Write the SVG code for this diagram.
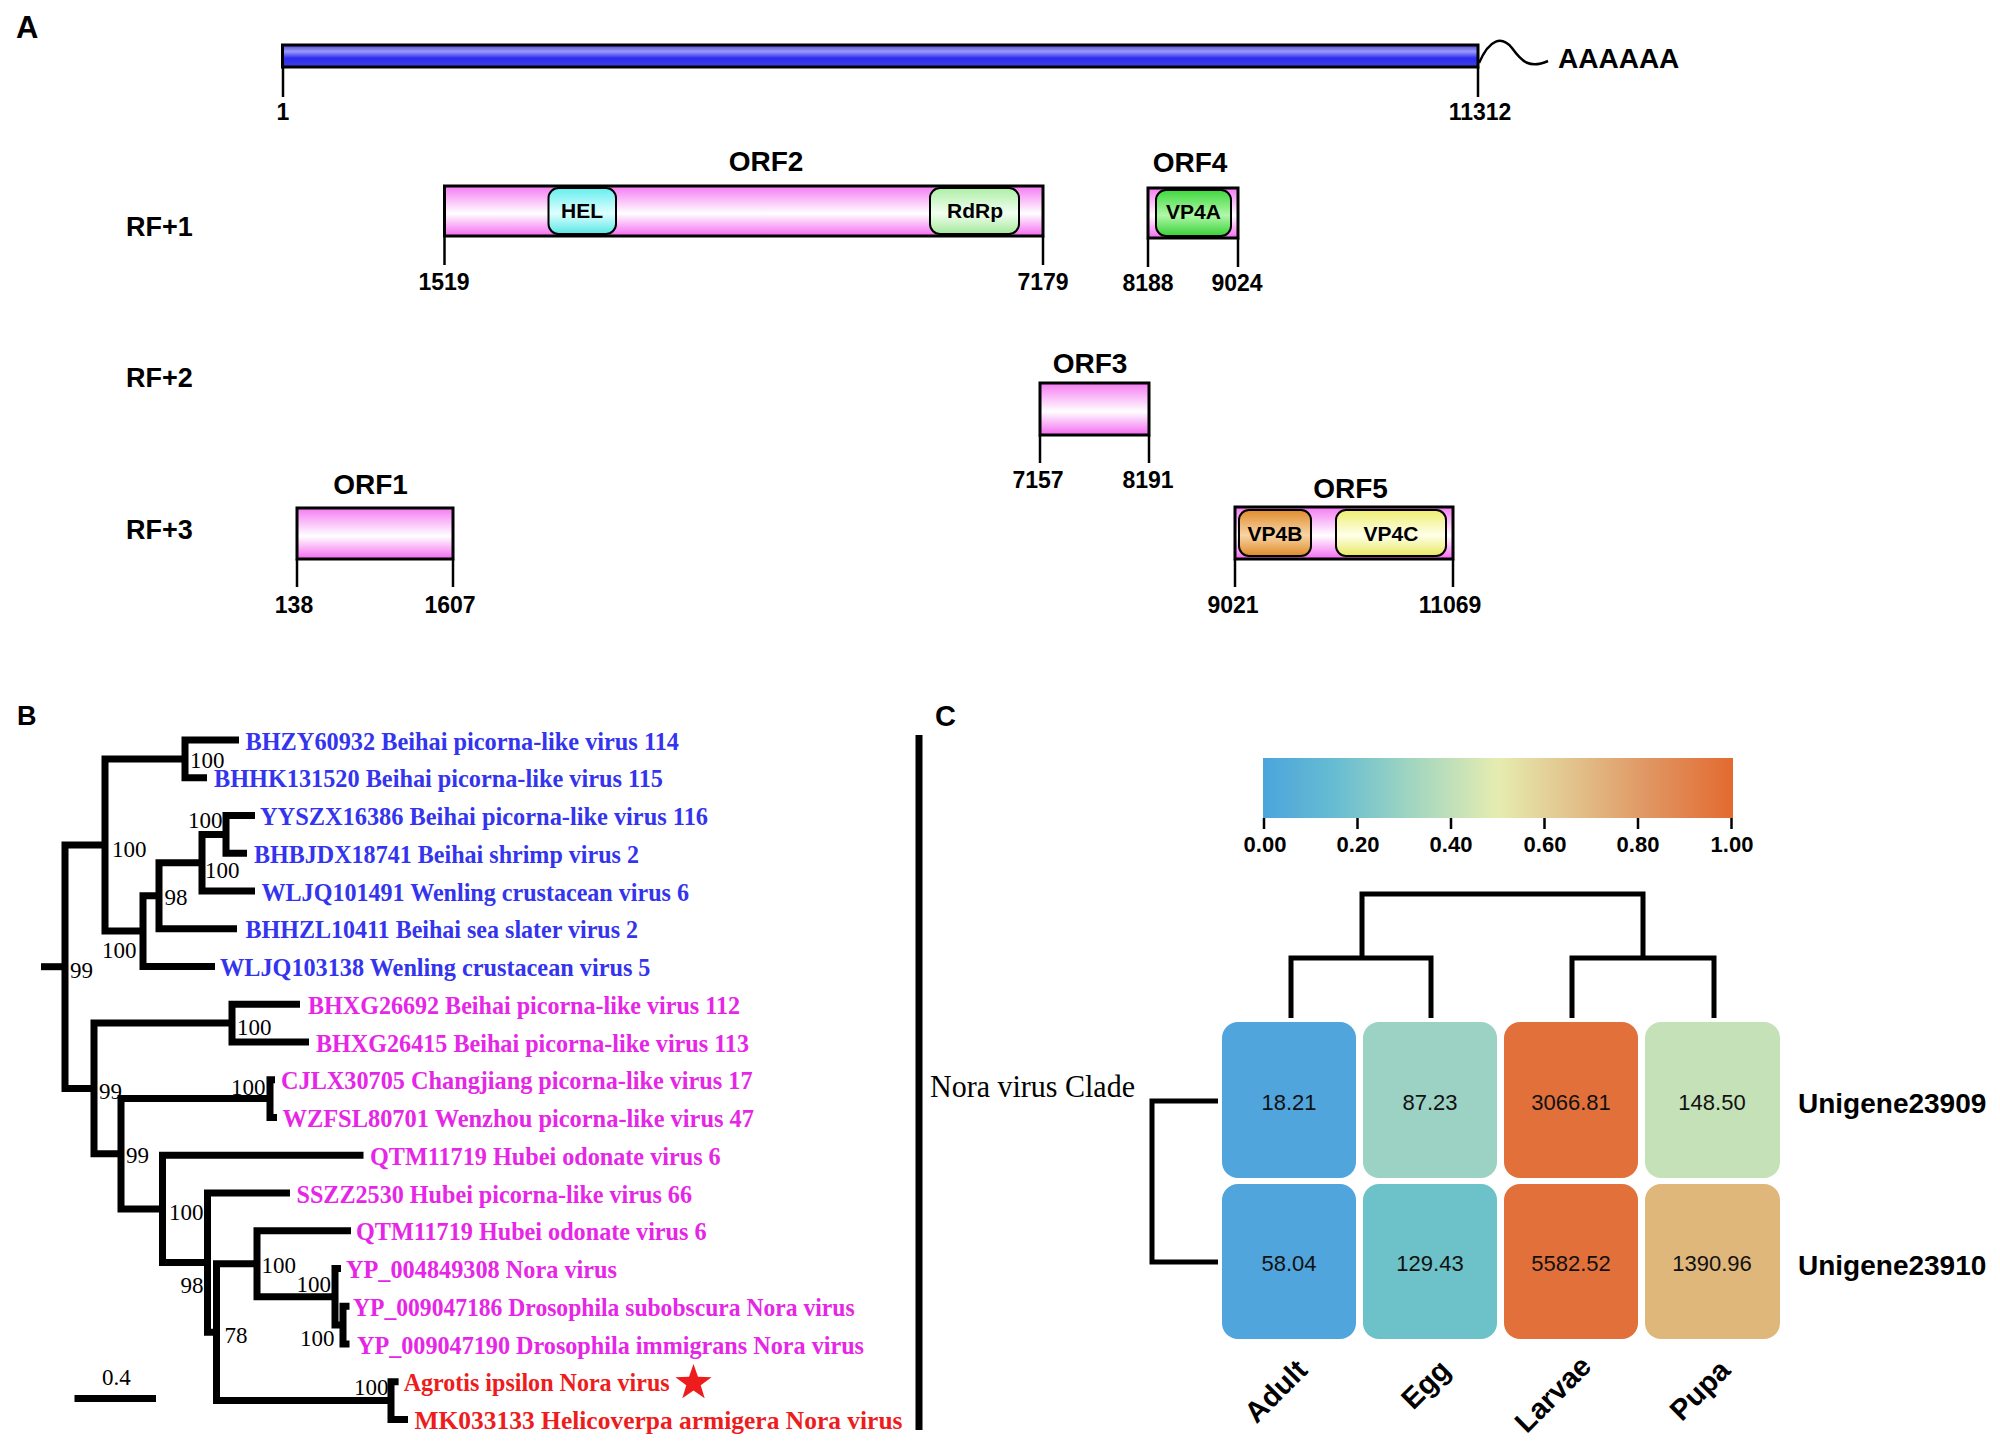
<svg xmlns="http://www.w3.org/2000/svg" width="2000" height="1442" viewBox="0 0 2000 1442">
<defs>
<linearGradient id="gBlue" x1="0" y1="0" x2="0" y2="1">
<stop offset="0" stop-color="#4a4ad8"/><stop offset="0.3" stop-color="#9a9af8"/><stop offset="0.6" stop-color="#2c2cf0"/><stop offset="1" stop-color="#4040e0"/>
</linearGradient>
<linearGradient id="gPink" x1="0" y1="0" x2="0" y2="1">
<stop offset="0" stop-color="#f47af2"/><stop offset="0.55" stop-color="#ffffff"/><stop offset="1" stop-color="#f46af0"/>
</linearGradient>
<linearGradient id="gCyan" x1="0" y1="0" x2="0" y2="1">
<stop offset="0" stop-color="#66eeee"/><stop offset="0.55" stop-color="#e0ffff"/><stop offset="1" stop-color="#58e6e6"/>
</linearGradient>
<linearGradient id="gLGreen" x1="0" y1="0" x2="0" y2="1">
<stop offset="0" stop-color="#aeeea6"/><stop offset="0.55" stop-color="#f2fff0"/><stop offset="1" stop-color="#a4e89c"/>
</linearGradient>
<linearGradient id="gGreen" x1="0" y1="0" x2="0" y2="1">
<stop offset="0" stop-color="#3ed83e"/><stop offset="0.55" stop-color="#b0f8a8"/><stop offset="1" stop-color="#38d038"/>
</linearGradient>
<linearGradient id="gOrange" x1="0" y1="0" x2="0" y2="1">
<stop offset="0" stop-color="#e08c2c"/><stop offset="0.55" stop-color="#f8d4a4"/><stop offset="1" stop-color="#de8a28"/>
</linearGradient>
<linearGradient id="gYellow" x1="0" y1="0" x2="0" y2="1">
<stop offset="0" stop-color="#eeee70"/><stop offset="0.55" stop-color="#ffffea"/><stop offset="1" stop-color="#e8e860"/>
</linearGradient>
<linearGradient id="gBar" x1="0" y1="0" x2="1" y2="0">
<stop offset="0" stop-color="#4ba5dc"/><stop offset="0.15" stop-color="#66bcd2"/><stop offset="0.32" stop-color="#a2d6c0"/><stop offset="0.5" stop-color="#e6ecb0"/><stop offset="0.66" stop-color="#e2c28c"/><stop offset="0.82" stop-color="#e09662"/><stop offset="1" stop-color="#e36a30"/>
</linearGradient>
</defs>
<style>
.pl{font-family:"Liberation Sans",Arial,sans-serif;font-weight:bold;fill:#000}
.rf{font-family:"Liberation Sans",Arial,sans-serif;font-weight:bold;font-size:27px}
.orf{font-family:"Liberation Sans",Arial,sans-serif;font-weight:bold;font-size:28px;text-anchor:middle}
.num{font-family:"Liberation Sans",Arial,sans-serif;font-weight:bold;font-size:23px;text-anchor:middle}
.dom{font-family:"Liberation Sans",Arial,sans-serif;font-weight:bold;font-size:21px;text-anchor:middle}
.box{stroke:#000;stroke-width:3;fill:url(#gPink)}
.dbox{stroke:#000;stroke-width:2}
.tick{stroke:#000;stroke-width:2.5;fill:none}
.br{stroke:#000;stroke-width:7;fill:none;stroke-linejoin:miter}
.lf{font-family:"Liberation Serif","Times New Roman",serif;font-weight:bold;font-size:25px}
.blue{fill:#3434ee}
.mag{fill:#e626e6}
.red{fill:#ee1c1c}
.bs{font-family:"Liberation Serif","Times New Roman",serif;font-size:23px;fill:#000}
.val{font-family:"Liberation Sans",Arial,sans-serif;font-size:22px;text-anchor:middle;fill:#111}
.cb{font-family:"Liberation Sans",Arial,sans-serif;font-weight:bold;font-size:22px;text-anchor:middle}
.dg{stroke:#000;stroke-width:5;fill:none}
.rowl{font-family:"Liberation Sans",Arial,sans-serif;font-weight:bold;font-size:28px}
.coll{font-family:"Liberation Sans",Arial,sans-serif;font-weight:bold;font-size:29px;text-anchor:end}
</style>
<rect width="2000" height="1442" fill="#fff"/>

<!-- Panel A -->
<text class="pl" x="16" y="38" font-size="31">A</text>
<g id="genome">
<rect x="282.5" y="45" width="1195.5" height="22" fill="url(#gBlue)" stroke="#000" stroke-width="3"/>
<line class="tick" x1="283" y1="67" x2="283" y2="97"/>
<line class="tick" x1="1478" y1="67" x2="1478" y2="97"/>
<path d="M1479,63 C1490,38 1502,36 1512,48 C1522,62 1530,69 1548,61" fill="none" stroke="#000" stroke-width="2.5"/>
<text class="num" x="283" y="120">1</text>
<text class="num" x="1480" y="120">11312</text>
<text class="pl" x="1558" y="68" font-size="28">AAAAAA</text>
</g>
<text class="rf" x="126" y="236">RF+1</text>
<text class="rf" x="126" y="387">RF+2</text>
<text class="rf" x="126" y="539">RF+3</text>

<g id="orf2">
<text class="orf" x="766" y="171">ORF2</text>
<rect class="box" x="444.5" y="186" width="598.5" height="50"/>
<rect class="dbox" x="548.5" y="188" width="67.5" height="46" rx="10" fill="url(#gCyan)"/>
<text class="dom" x="582" y="218">HEL</text>
<rect class="dbox" x="930" y="188" width="89" height="46" rx="10" fill="url(#gLGreen)"/>
<text class="dom" x="975" y="218">RdRp</text>
<line class="tick" x1="444.5" y1="236" x2="444.5" y2="265"/>
<line class="tick" x1="1043" y1="236" x2="1043" y2="265"/>
<text class="num" x="444" y="290">1519</text>
<text class="num" x="1043" y="290">7179</text>
</g>
<g id="orf4">
<text class="orf" x="1190" y="172">ORF4</text>
<rect class="box" x="1148" y="188" width="90" height="50"/>
<rect class="dbox" x="1156" y="190" width="75" height="46" rx="10" fill="url(#gGreen)"/>
<text class="dom" x="1193.5" y="219">VP4A</text>
<line class="tick" x1="1148" y1="238" x2="1148" y2="267"/>
<line class="tick" x1="1238" y1="238" x2="1238" y2="267"/>
<text class="num" x="1148" y="291">8188</text>
<text class="num" x="1237" y="291">9024</text>
</g>
<g id="orf3">
<text class="orf" x="1090" y="373">ORF3</text>
<rect class="box" x="1040" y="383" width="109" height="52"/>
<line class="tick" x1="1040" y1="435" x2="1040" y2="463"/>
<line class="tick" x1="1149" y1="435" x2="1149" y2="463"/>
<text class="num" x="1038" y="488">7157</text>
<text class="num" x="1148" y="488">8191</text>
</g>
<g id="orf1">
<text class="orf" x="370.5" y="494">ORF1</text>
<rect class="box" x="297" y="508" width="156" height="51"/>
<line class="tick" x1="297" y1="559" x2="297" y2="587"/>
<line class="tick" x1="453" y1="559" x2="453" y2="587"/>
<text class="num" x="294" y="613">138</text>
<text class="num" x="450" y="613">1607</text>
</g>
<g id="orf5">
<text class="orf" x="1350.5" y="498">ORF5</text>
<rect class="box" x="1235" y="507" width="218" height="52"/>
<rect class="dbox" x="1239" y="510" width="72" height="46" rx="10" fill="url(#gOrange)"/>
<text class="dom" x="1275" y="541">VP4B</text>
<rect class="dbox" x="1336" y="510" width="110" height="46" rx="10" fill="url(#gYellow)"/>
<text class="dom" x="1391" y="541">VP4C</text>
<line class="tick" x1="1235" y1="559" x2="1235" y2="587"/>
<line class="tick" x1="1453" y1="559" x2="1453" y2="587"/>
<text class="num" x="1233" y="613">9021</text>
<text class="num" x="1450" y="613">11069</text>
</g>

<!-- Panel B -->
<text class="pl" x="17" y="725" font-size="27">B</text>
<g id="connectors">
<path class="br" d="M239,740 H185 V777.75 H207"/>
<path class="br" d="M255,815.5 H226 V853.25 H247"/>
<path class="br" d="M226,834.4 H202 V891 H255"/>
<path class="br" d="M202,862.7 H159 V928.75 H237"/>
<path class="br" d="M159,895.7 H143 V966.5 H215"/>
<path class="br" d="M185,758.9 H105 V931.1 H143"/>
<path class="br" d="M105,845 H65 V1088.4 H94"/>
<path class="br" d="M41,966.7 H65"/>
<path class="br" d="M300,1004.25 H232 V1042 H309"/>
<path class="br" d="M232,1023.1 H94 V1153.8 H121"/>
<path class="br" d="M275,1079.75 H270 V1117.5 H277"/>
<path class="br" d="M270,1098.6 H121 V1208.9 H162.5"/>
<path class="br" d="M363.5,1155.25 H162.5 V1262.6 H207.5"/>
<path class="br" d="M290,1193 H207.5 V1332.2 H216.5"/>
<path class="br" d="M257,1263.8 H216.5 V1400.6 H391"/>
<path class="br" d="M351,1230.75 H257 V1296.8 H335"/>
<path class="br" d="M341,1268.5 H335 V1325.1 H343"/>
<path class="br" d="M349.5,1306.25 H343 V1344 H349.5"/>
<path class="br" d="M398.6,1381.75 H391 V1419.5 H408"/>
<path class="br" d="M74.5,1398.5 H156"/>
<path d="M919,735 V1430" stroke="#000" stroke-width="7"/>
<path class="dg" d="M1218,1101 H1152 V1262 H1218" stroke-width="5"/>
<path class="dg" d="M1291,1018 V958 H1431 V1018 M1572,1018 V958 H1714 V1018 M1362,958 V894 H1643 V958"/>
</g>
<g id="leaves">
<text class="lf blue" x="245.5" y="749.5" textLength="433.5" lengthAdjust="spacingAndGlyphs">BHZY60932 Beihai picorna-like virus 114</text>
<text class="lf blue" x="214" y="787.25" textLength="449" lengthAdjust="spacingAndGlyphs">BHHK131520 Beihai picorna-like virus 115</text>
<text class="lf blue" x="260" y="825" textLength="448" lengthAdjust="spacingAndGlyphs">YYSZX16386 Beihai picorna-like virus 116</text>
<text class="lf blue" x="254" y="862.75" textLength="385" lengthAdjust="spacingAndGlyphs">BHBJDX18741 Beihai shrimp virus 2</text>
<text class="lf blue" x="261.5" y="900.5" textLength="427.5" lengthAdjust="spacingAndGlyphs">WLJQ101491 Wenling crustacean virus 6</text>
<text class="lf blue" x="245.5" y="938.25" textLength="392.5" lengthAdjust="spacingAndGlyphs">BHHZL10411 Beihai sea slater virus 2</text>
<text class="lf blue" x="220" y="976" textLength="430.5" lengthAdjust="spacingAndGlyphs">WLJQ103138 Wenling crustacean virus 5</text>
<text class="lf mag" x="308" y="1013.75" textLength="432" lengthAdjust="spacingAndGlyphs">BHXG26692 Beihai picorna-like virus 112</text>
<text class="lf mag" x="316" y="1051.5" textLength="433" lengthAdjust="spacingAndGlyphs">BHXG26415 Beihai picorna-like virus 113</text>
<text class="lf mag" x="281" y="1089.25" textLength="471.6" lengthAdjust="spacingAndGlyphs">CJLX30705 Changjiang picorna-like virus 17</text>
<text class="lf mag" x="282.5" y="1127" textLength="471.5" lengthAdjust="spacingAndGlyphs">WZFSL80701 Wenzhou picorna-like virus 47</text>
<text class="lf mag" x="370" y="1164.75" textLength="350.7" lengthAdjust="spacingAndGlyphs">QTM11719 Hubei odonate virus 6</text>
<text class="lf mag" x="296.5" y="1202.5" textLength="395.5" lengthAdjust="spacingAndGlyphs">SSZZ2530 Hubei picorna-like virus 66</text>
<text class="lf mag" x="356" y="1240.25" textLength="350.6" lengthAdjust="spacingAndGlyphs">QTM11719 Hubei odonate virus 6</text>
<text class="lf mag" x="346" y="1278" textLength="271" lengthAdjust="spacingAndGlyphs">YP_004849308 Nora virus</text>
<text class="lf mag" x="353" y="1315.75" textLength="501.6" lengthAdjust="spacingAndGlyphs">YP_009047186 Drosophila subobscura Nora virus</text>
<text class="lf mag" x="357" y="1353.5" textLength="507" lengthAdjust="spacingAndGlyphs">YP_009047190 Drosophila immigrans Nora virus</text>
<text class="lf red" x="403.7" y="1391.25" textLength="266" lengthAdjust="spacingAndGlyphs">Agrotis ipsilon Nora virus</text>
<text class="lf red" x="414.5" y="1429" textLength="488" lengthAdjust="spacingAndGlyphs">MK033133 Helicoverpa armigera Nora virus</text>
<polygon points="693.5,1364 697.97,1376.85 711.57,1377.13 700.73,1385.35 704.67,1398.37 693.5,1390.6 682.33,1398.37 686.27,1385.35 675.43,1377.13 689.03,1376.85" fill="#ee1c1c"/>
</g>
<g id="bootstrap">
<text class="bs" x="190" y="768">100</text>
<text class="bs" x="188" y="828">100</text>
<text class="bs" x="205" y="878">100</text>
<text class="bs" x="164.5" y="905">98</text>
<text class="bs" x="102" y="958">100</text>
<text class="bs" x="112" y="857">100</text>
<text class="bs" x="70" y="978">99</text>
<text class="bs" x="237" y="1035">100</text>
<text class="bs" x="99" y="1099">99</text>
<text class="bs" x="231" y="1095">100</text>
<text class="bs" x="126" y="1163">99</text>
<text class="bs" x="169" y="1220">100</text>
<text class="bs" x="180.5" y="1293">98</text>
<text class="bs" x="224.5" y="1343">78</text>
<text class="bs" x="261.5" y="1273">100</text>
<text class="bs" x="296.6" y="1292">100</text>
<text class="bs" x="300" y="1346">100</text>
<text class="bs" x="354" y="1395">100</text>
<text class="bs" x="102" y="1385" font-size="22">0.4</text>
</g>
<text x="930" y="1097" font-family="Liberation Serif,'Times New Roman',serif" font-size="32" textLength="205" lengthAdjust="spacingAndGlyphs">Nora virus Clade</text>

<!-- Panel C -->
<text class="pl" x="935" y="726" font-size="29">C</text>
<g id="colorbar">
<rect x="1263" y="758" width="470" height="60" fill="url(#gBar)"/>
<path class="tick" d="M1264,818 V829 M1357.5,818 V829 M1451,818 V829 M1544.5,818 V829 M1638,818 V829 M1731.5,818 V829" stroke-width="2.5"/>
<text class="cb" x="1265" y="852">0.00</text>
<text class="cb" x="1358" y="852">0.20</text>
<text class="cb" x="1451" y="852">0.40</text>
<text class="cb" x="1545" y="852">0.60</text>
<text class="cb" x="1638" y="852">0.80</text>
<text class="cb" x="1732" y="852">1.00</text>
</g>
<g id="heatmap">
<g id="cell-adult-1"><rect x="1222" y="1022" width="134" height="156" rx="16" fill="#4fa5dc"/><text class="val" x="1289" y="1110">18.21</text></g>
<g id="cell-egg-1"><rect x="1363" y="1022" width="134" height="156" rx="16" fill="#9bd2c3"/><text class="val" x="1430" y="1110">87.23</text></g>
<g id="cell-larvae-1"><rect x="1504" y="1022" width="134" height="156" rx="16" fill="#e2703a"/><text class="val" x="1571" y="1110">3066.81</text></g>
<g id="cell-pupa-1"><rect x="1645" y="1022" width="135" height="156" rx="16" fill="#c4e1b8"/><text class="val" x="1712" y="1110">148.50</text></g>
<g id="cell-adult-2"><rect x="1222" y="1184" width="134" height="155" rx="16" fill="#4fa5dc"/><text class="val" x="1289" y="1271">58.04</text></g>
<g id="cell-egg-2"><rect x="1363" y="1184" width="134" height="155" rx="16" fill="#6cc2c8"/><text class="val" x="1430" y="1271">129.43</text></g>
<g id="cell-larvae-2"><rect x="1504" y="1184" width="134" height="155" rx="16" fill="#e2703a"/><text class="val" x="1571" y="1271">5582.52</text></g>
<g id="cell-pupa-2"><rect x="1645" y="1184" width="135" height="155" rx="16" fill="#dfb77a"/><text class="val" x="1712" y="1271">1390.96</text></g>
</g>
<text class="rowl" x="1798" y="1113">Unigene23909</text>
<text class="rowl" x="1798" y="1275">Unigene23910</text>
<text class="coll" transform="translate(1309,1372) rotate(-45)">Adult</text>
<text class="coll" transform="translate(1452,1372) rotate(-45)">Egg</text>
<text class="coll" transform="translate(1593,1368) rotate(-45)">Larvae</text>
<text class="coll" transform="translate(1732,1372) rotate(-45)">Pupa</text>
</svg>
